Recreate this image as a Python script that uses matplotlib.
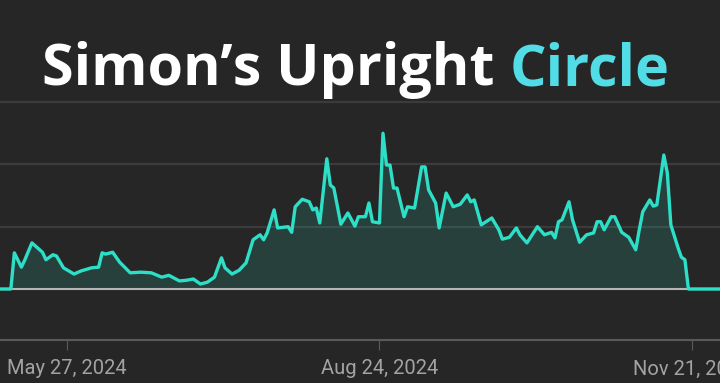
import matplotlib
matplotlib.use("Agg")
import matplotlib.pyplot as plt
import matplotlib.dates as mdates
import pandas as pd
import numpy as np

# Day offsets from 2024-05-27
day_offsets = [-20, -16, -15, -13, -12, -10, -9, -7, -6, -4, -3, -1, 2, 4, 7, 9, 10, 11, 13, 15,
               18, 21, 24, 27, 29, 32, 34, 36, 38, 40, 42, 44, 45, 47, 49, 51, 53, 55, 56, 57,
               59, 60, 63, 64, 65, 67, 69, 70, 71, 72, 74, 75, 76, 78, 80, 82, 83, 85, 86, 87,
               89, 90, 91, 92, 93, 94, 96, 97, 99, 101, 102, 103, 105, 106, 108, 110, 112, 114, 115, 116,
               118, 121, 123, 124, 126, 128, 129, 131, 134, 136, 138, 139, 140, 141, 143, 144, 146, 148, 150, 151,
               152, 153, 155, 156, 158, 160, 162, 163, 164, 166, 167, 168, 170, 171, 172, 174, 175, 176, 177, 188]
values = [0, 0, 58, 35, 47, 74, 69, 59, 47, 55, 53, 34, 24, 29, 34, 35, 58, 56, 59, 43,
          26, 27, 26, 19, 22, 13, 14, 16, 8, 11, 19, 50, 34, 24, 30, 42, 79, 87, 79, 90,
          127, 98, 100, 91, 132, 144, 140, 127, 130, 106, 209, 167, 162, 104, 122, 101, 116, 116, 138, 108,
          106, 250, 199, 199, 162, 162, 116, 132, 130, 196, 196, 159, 138, 98, 154, 132, 136, 151, 140, 143,
          103, 114, 95, 80, 83, 98, 87, 74, 100, 87, 91, 82, 108, 111, 140, 111, 75, 87, 90, 108,
          108, 95, 116, 116, 91, 83, 63, 95, 124, 143, 133, 135, 215, 186, 103, 67, 51, 47, 0, 0]

tick_dates = ["2024-05-27", "2024-08-24", "2024-11-21"]
title_main = "Simon\u2019s Upright "
title_accent = "Circle"

BG = "#272626"
LINE = "#2ddfc7"

start = pd.Timestamp("2024-05-27")
dates = start + pd.to_timedelta(day_offsets, unit="D")
xnum = mdates.date2num(dates.to_pydatetime())

fig = plt.figure(figsize=(7.2, 3.83), dpi=100, facecolor=BG)
H = 383.0
ax = fig.add_axes([0, 1 - 340 / H, 1, (340 - 95) / H])
ax.set_facecolor(BG)

ax.fill_between(xnum, values, 0, color=LINE, alpha=0.14, linewidth=0, zorder=2)
ax.plot(xnum, values, color=LINE, lw=2.4, solid_joinstyle="round", zorder=4)
ax.axhline(0, color="#b5b5b5", lw=1.5, zorder=3)

s0 = mdates.date2num(start.to_pydatetime())
ax.set_xlim(s0 - 19.09, s0 + 186.0)
ax.set_ylim(-(340 - 289) / 0.623, (289 - 95) / 0.623)

ax.set_yticks([100, 200, 300])
ax.yaxis.grid(True, color="#3b3b3b", lw=1.6, zorder=0)
ax.tick_params(axis="y", left=False, labelleft=False)

tnum = mdates.date2num(pd.to_datetime(tick_dates).to_pydatetime())
ax.set_xticks(tnum)
ax.set_xticklabels([pd.Timestamp(d).strftime("%b %d, %Y") for d in tick_dates])
ax.tick_params(axis="x", colors="#5a5a5a", length=7, width=0.8, pad=7,
               labelcolor="#a3a3a3", labelsize=14.5)
for lab in ax.get_xticklabels():
    lab.set_family("Roboto")

for side in ["top", "left", "right"]:
    ax.spines[side].set_visible(False)
ax.spines["bottom"].set_color("#5a5a5a")
ax.spines["bottom"].set_linewidth(1.5)

# Title in two colours
fs = 41.3
t1 = fig.text(42 / 720, 1 - 85 / H, title_main, color="white", fontsize=fs,
              fontweight="bold", family="Open Sans", ha="left", va="baseline")
fig.canvas.draw()
bb = t1.get_window_extent()
fig.text(bb.x1 / 720, 1 - 85 / H, title_accent, color="#52dde6", fontsize=fs,
         fontweight="bold", family="Open Sans", ha="left", va="baseline")

fig.savefig("out.png", dpi=100, facecolor=BG)
